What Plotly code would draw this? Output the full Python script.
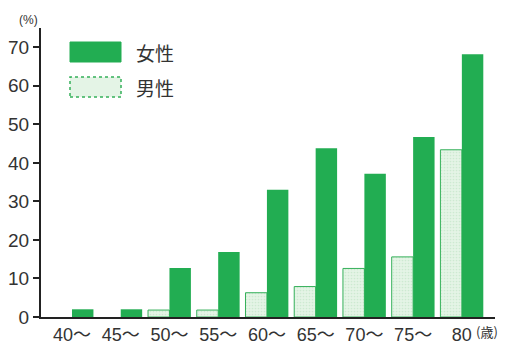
import plotly.graph_objects as go

categories = ["40〜", "45〜", "50〜", "55〜", "60〜", "65〜", "70〜", "75〜", "80"]
female = [2, 2, 12.7, 16.9, 33, 43.8, 37.2, 46.7, 68.2]
male = [0, 0, 1.8, 1.8, 6.3, 7.9, 12.6, 15.6, 43.4]
y_ticks = [0, 10, 20, 30, 40, 50, 60, 70]

W, H = 507, 345
L, R, T, B = 41, 12, 28, 28
pw, ph = W - L - R, H - T - B

def px(x):
    return (x - L) / pw

def py(y):
    return (H - B - y) / ph

FEM = "#22ad52"
MALE_BG = "#e4f4e6"
MALE_LINE = "#35b05a"
FONT = "Liberation Sans, Arial, sans-serif"
JFONT = "Noto Sans CJK JP, sans-serif"

xs = list(range(len(categories)))

fig = go.Figure()
fig.add_trace(go.Bar(
    x=xs, y=male, name="男性",
    marker=dict(color=MALE_BG,
                line=dict(color=MALE_LINE, width=[1 if v > 0 else 0 for v in male]),
                pattern=dict(shape=".", fgcolor="#b5e0bc", bgcolor=MALE_BG, size=3, solidity=0.25)),
))
fig.add_trace(go.Bar(
    x=xs, y=female, name="女性",
    marker=dict(color=FEM, line=dict(color=FEM, width=0)),
))

fig.update_layout(
    width=W, height=H,
    margin=dict(l=L, r=R, t=T, b=B, pad=0, autoexpand=False),
    paper_bgcolor="white", plot_bgcolor="white",
    barmode="group", bargap=0.12, bargroupgap=0,
    showlegend=False,
    font=dict(family=FONT, color="#333333"),
)
fig.update_xaxes(
    range=[-0.636, 8.68], tickmode="array", tickvals=xs, ticktext=categories,
    showline=True, linecolor="#222222", linewidth=2, showgrid=False, zeroline=False,
    ticks="", automargin=False,
    tickfont=dict(size=18, family="Liberation Sans, Noto Sans CJK JP, sans-serif", color="#333333"),
)
fig.update_yaxes(
    range=[0, 75], tickmode="array", tickvals=y_ticks,
    showline=True, linecolor="#222222", linewidth=2, showgrid=False, zeroline=False,
    ticks="outside", ticklen=6, tickwidth=2, tickcolor="#222222", automargin=False,
    tickfont=dict(size=19, family=FONT, color="#333333"),
)

# legend drawn manually
fig.add_shape(type="rect", xref="paper", yref="paper",
              x0=px(70), x1=px(121), y0=py(62), y1=py(42),
              fillcolor=FEM, line=dict(color=FEM, width=1))
fig.add_shape(type="rect", xref="paper", yref="paper",
              x0=px(70), x1=px(121), y0=py(97), y1=py(77),
              fillcolor=MALE_BG, line=dict(color=MALE_LINE, width=1.5, dash="dot"))
fig.add_annotation(text="女性", xref="paper", yref="paper", x=px(134), y=py(52),
                   xanchor="left", yanchor="middle", showarrow=False,
                   font=dict(size=19, family=JFONT, color="#333333"))
fig.add_annotation(text="男性", xref="paper", yref="paper", x=px(134), y=py(87),
                   xanchor="left", yanchor="middle", showarrow=False,
                   font=dict(size=19, family=JFONT, color="#333333"))
fig.add_annotation(text="(%)", xref="paper", yref="paper", x=px(28), y=py(20),
                   xanchor="center", yanchor="middle", showarrow=False,
                   font=dict(size=12, family=FONT, color="#333333"))
fig.add_annotation(text="(歳)", xref="paper", yref="paper", x=px(487), y=py(331),
                   xanchor="center", yanchor="middle", showarrow=False,
                   font=dict(size=13, family=JFONT, color="#333333"))

fig.write_html("out.html")
